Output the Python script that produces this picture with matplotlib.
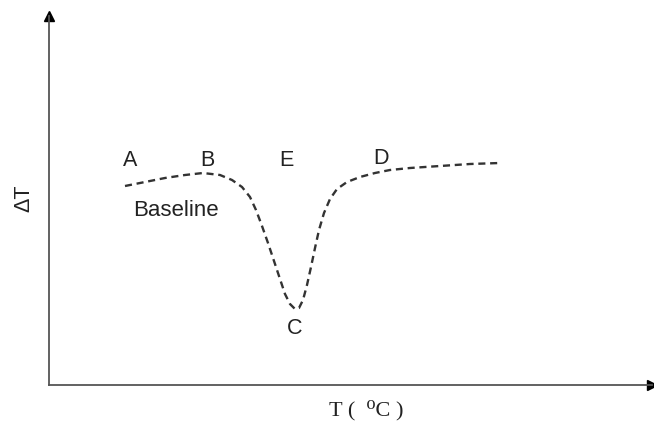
import matplotlib
matplotlib.use("Agg")
import matplotlib.pyplot as plt

# courbe DTA schematique : temperature (u.a.) et difference de temperature (u.a.)
T = [76, 96, 116, 136, 154, 171, 183, 193, 201, 207, 213, 219, 225, 231, 236,
     241, 246, 250, 254, 258, 262, 266, 270, 275, 281, 288, 298, 311, 326, 341,
     361, 391, 421, 451]
DT = [199, 203, 207, 210, 212, 210, 205, 198, 188, 175, 159, 142, 124, 106, 91,
      81, 76, 77, 85, 100, 118, 137, 155, 172, 186, 196, 203, 208, 212, 215,
      217, 219, 221, 222]

# reperes de la courbe
POINTS = ["A", "B", "E", "D", "C"]
POINTS_T = [81, 158, 237, 332, 246]
POINTS_DT = [225, 225, 225, 227, 57]

GRIS_AXE = "#555555"
GRIS_COURBE = "#333333"
TEXTE = "#222222"

fig = plt.figure(figsize=(6.54, 4.25), dpi=100)
ax = fig.add_axes([49 / 654, 40 / 425, 603 / 654, 369 / 425])
ax.set_xlim(0, 603)
ax.set_ylim(0, 369)

ax.plot(T, DT, color=GRIS_COURBE, lw=1.7, dashes=(3.0, 2.0))

for s in ("top", "right"):
    ax.spines[s].set_visible(False)
for s in ("left", "bottom"):
    ax.spines[s].set_color(GRIS_AXE)
    ax.spines[s].set_linewidth(1.3)
ax.set_xticks([])
ax.set_yticks([])

# pointes de fleche au bout des axes
ax.plot([0], [369], marker="^", ms=7, color="black", clip_on=False)
ax.plot([603], [0], marker=">", ms=7, color="black", clip_on=False)

for lab, x, y in zip(POINTS, POINTS_T, POINTS_DT):
    ax.text(x, y, lab, fontsize=15.5, family="Liberation Sans",
            ha="center", va="center", color=TEXTE)
ax.text(127, 175, "Baseline", fontsize=16, family="Liberation Sans",
        ha="center", va="center", color=TEXTE)

ax.text(-25, 187, "ΔT", fontsize=15.5, family="Liberation Sans", rotation=90,
        ha="center", va="center", color=TEXTE)
ax.text(317, -25, "T (  ⁰C )", fontsize=16,
        family=["Liberation Serif", "DejaVu Serif"],
        ha="center", va="center", color=TEXTE)

fig.savefig("out.png", dpi=100)
